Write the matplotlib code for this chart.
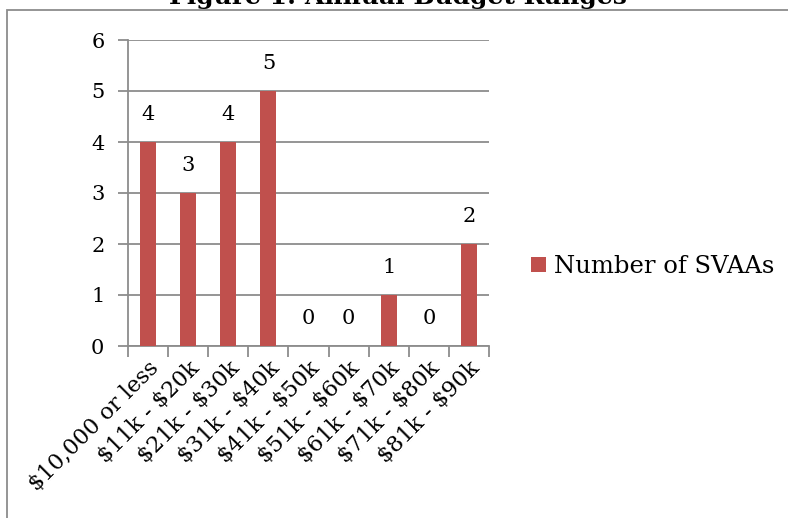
import matplotlib
matplotlib.use("Agg")
import matplotlib.pyplot as plt
from matplotlib.patches import Rectangle
import numpy as np

plt.rcParams["text.parse_math"] = False

categories = ["$10,000 or less", "$11k - $20k", "$21k - $30k", "$31k - $40k",
              "$41k - $50k", "$51k - $60k", "$61k - $70k", "$71k - $80k", "$81k - $90k"]
values = [4, 3, 4, 5, 0, 0, 1, 0, 2]
series_name = "Number of SVAAs"
title = "Figure 1: Annual Budget Ranges"
yticks = [0, 1, 2, 3, 4, 5, 6]

bar_color = "#C0504D"
grid_color = "#8C8C8C"
font = "DejaVu Serif"
fs = 15

fig = plt.figure(figsize=(7.88, 5.18), dpi=100)
fig.patch.set_facecolor("white")

# outer chart frame
frame = Rectangle((7/788, -0.2), 1.2, 1 - 10/518 + 0.2, transform=fig.transFigure,
                  fill=False, edgecolor=grid_color, linewidth=1.3, zorder=0)
fig.patches.append(frame)

fig.text(0.505, 1 - 4/518, title, ha="center", va="baseline", fontsize=18,
         fontweight="bold", family=font)

ax = fig.add_axes([128/788, 1 - 346/518, (489 - 128)/788, (346 - 40)/518])
x = np.arange(len(categories))
ax.bar(x, values, width=0.4, color=bar_color, label=series_name, zorder=3)

ax.set_xlim(-0.5, len(categories) - 0.5)
ax.set_ylim(0, 6)
ax.set_yticks(yticks)
ax.set_yticklabels([str(t) for t in yticks], fontsize=fs, family=font)
ax.yaxis.grid(True, color=grid_color, linewidth=1.3, zorder=0)
ax.set_axisbelow(True)

ax.set_xticks(x)
ax.set_xticklabels(categories, rotation=45, ha="right", va="top",
                   rotation_mode="anchor", fontsize=16, family=font)
ax.tick_params(axis="x", which="major", length=0, pad=8)
ax.set_xticks(np.arange(-0.5, len(categories)), minor=True)
ax.tick_params(axis="x", which="minor", length=8, width=1.3, color=grid_color)
ax.tick_params(axis="y", length=7, width=1.3, color=grid_color, pad=10)

for s in ["top", "right"]:
    ax.spines[s].set_visible(False)
for s in ["left", "bottom"]:
    ax.spines[s].set_color(grid_color)
    ax.spines[s].set_linewidth(1.3)

for xi, v in zip(x, values):
    ax.annotate(str(v), (xi, v), xytext=(0, 13), textcoords="offset points",
                ha="center", va="bottom", fontsize=fs, family=font)

ax.legend(loc="center left", bbox_to_anchor=(1.117, 0.26), frameon=False,
          handlelength=0.6, handleheight=0.6, handletextpad=0.35,
          borderaxespad=0, borderpad=0,
          prop={"family": font, "size": 17.5})

fig.savefig("out.png", dpi=100)
